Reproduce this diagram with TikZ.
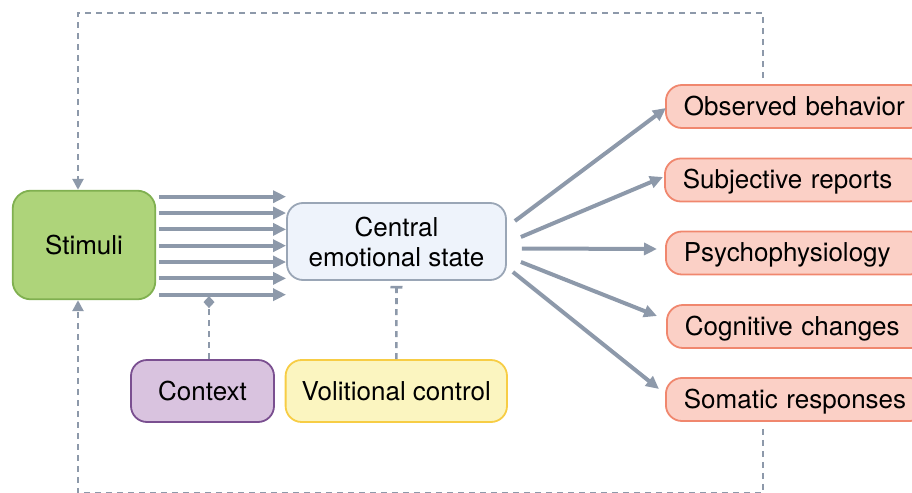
\documentclass[tikz,border=0pt]{standalone}
\usepackage{fontspec}
\setmainfont{TeX Gyre Heros}
\usetikzlibrary{arrows.meta}
\definecolor{stimfill}{HTML}{AED47A}
\definecolor{stimdraw}{HTML}{80B050}
\definecolor{centfill}{HTML}{EEF3FB}
\definecolor{centdraw}{HTML}{9AA6B6}
\definecolor{ctxfill}{HTML}{D9C3DF}
\definecolor{ctxdraw}{HTML}{7A4F90}
\definecolor{volfill}{HTML}{FBF5C0}
\definecolor{voldraw}{HTML}{F7CD45}
\definecolor{outfill}{HTML}{FBD0C6}
\definecolor{outdraw}{HTML}{F0876E}
\definecolor{flowgrey}{HTML}{8D99AA}
\tikzset{
  box/.style={draw, line width=0.9pt, rounded corners=8pt, align=center,
    font=\fontsize{13}{15}\selectfont, inner sep=0pt},
  outbox/.style={box, fill=outfill, draw=outdraw, anchor=west, text width=112pt,
    align=left, inner xsep=9pt, minimum height=21.5pt, text height=9.3pt, text depth=0.8pt},
  flow/.style={draw=flowgrey, line width=2pt, -{Triangle[length=6.5pt,width=6pt]}},
  fb/.style={draw=flowgrey, line width=1.3pt, dash pattern=on 3pt off 2.5pt},
}
\begin{document}
\begin{tikzpicture}[x=0.5pt,y=-0.5pt]
\clip(0,0)rectangle(912,493);
\node[box,fill=stimfill,draw=stimdraw,minimum width=71.3pt,minimum height=54.3pt,rounded corners=9pt](stim)at(84,245){Stimuli};
\node[box,fill=centfill,draw=centdraw,minimum width=109.5pt,minimum height=38.5pt](cent)at(396.5,241.5){Central\\emotional state};
\node[box,fill=ctxfill,draw=ctxdraw,minimum width=71.5pt,minimum height=31pt](ctx)at(202.5,391){Context};
\node[box,fill=volfill,draw=voldraw,minimum width=110.7pt,minimum height=31pt](vol)at(396.3,391){Volitional control};
\node[outbox](obs)at(665,106.5){Observed behavior};
\node[outbox](subj)at(664,180){Subjective reports};
\node[outbox](psy)at(665,253){Psychophysiology};
\node[outbox](cog)at(666,326.5){Cognitive changes};
\node[outbox](som)at(665,399.5){Somatic responses};
% stimuli into the central state
\foreach \i [evaluate=\i as \yy using 196.7+16.33*\i] in {0,...,6}
  \draw[flow,shorten <=1.3pt](stim.east |- 0,\yy)--(cent.west |- 0,\yy);
% outputs
\draw[flow]([shift={(8,-20.5)}]cent.east)--([shift={(1,1.5)}]obs.west);
\draw[flow]([shift={(14,-4.5)}]cent.east)--([shift={(-1,-3)}]subj.west);
\draw[flow]([shift={(15,7)}]cent.east)--([shift={(-8,-4)}]psy.west);
\draw[flow]([shift={(14,20.5)}]cent.east)--([shift={(-9,-10.5)}]cog.west);
\draw[flow]([shift={(6,30.5)}]cent.east)--([shift={(-6,-10.5)}]som.west);
% modulators
\draw[fb,-{Diamond[length=6pt,width=5.5pt]}]([xshift=3.25pt]ctx.north)--++(0,-63);
\draw[fb,-{Bar[width=6pt,line width=1.3pt]}](vol.north)--([yshift=-2.5pt]cent.south);
% feedback loops
\draw[fb,-{Triangle[length=5.5pt,width=5.5pt]}]([xshift=-16.5pt,yshift=3pt]obs.north)--++(0,-65)-|([xshift=-3pt]stim.north);
\draw[fb,-{Triangle[length=5.5pt,width=5.5pt]}]([xshift=-16.5pt,yshift=-3.5pt]som.south)--++(0,64)-|([xshift=-3pt]stim.south);
\end{tikzpicture}
\end{document}
